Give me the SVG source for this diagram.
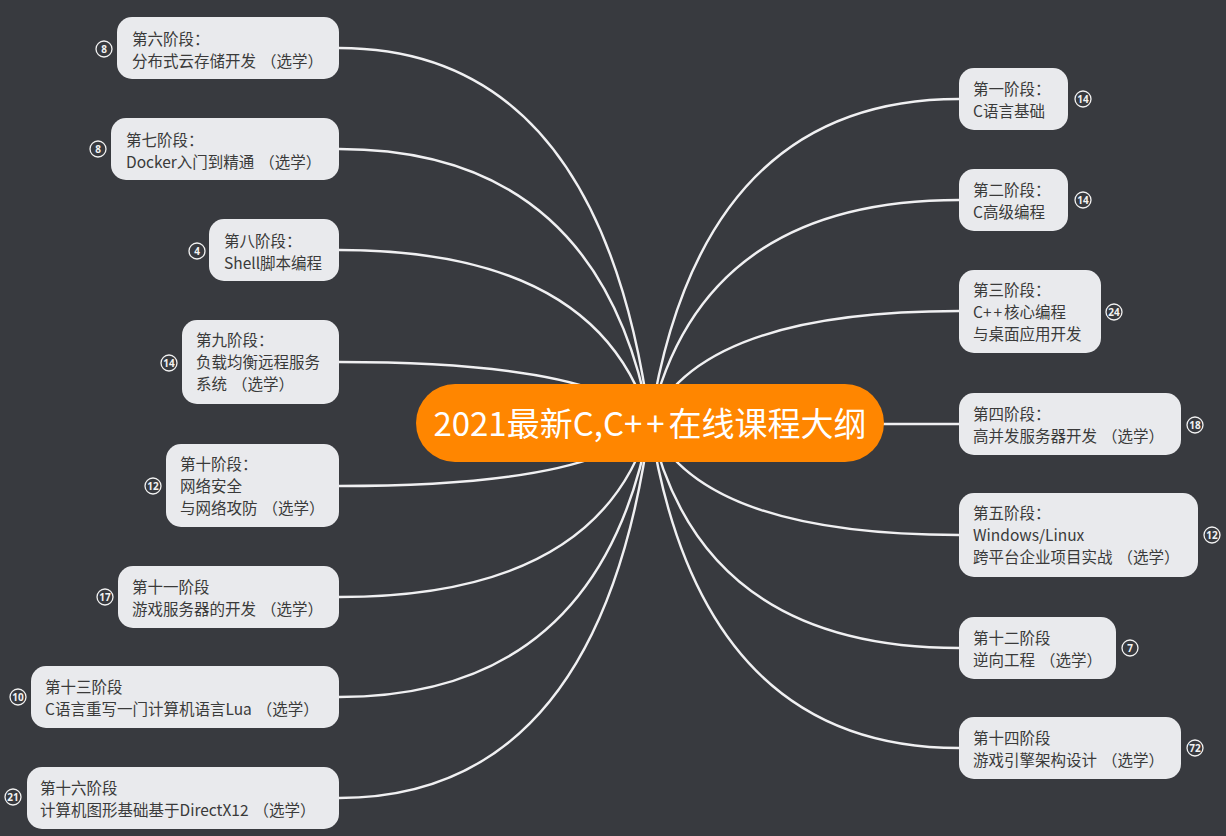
<svg xmlns="http://www.w3.org/2000/svg" width="1226" height="836" viewBox="0 0 1226 836">
<style>
.bg{fill:#383a3f}
.node rect{fill:#e9eaed}
.node text{font-family:"Noto Sans CJK SC","Noto Sans",sans-serif;font-size:15.5px;fill:#3a3a3a}
.badge circle{fill:none;stroke:#f2f2f2;stroke-width:1.3}
.badge text{font-family:"Noto Sans","DejaVu Sans",sans-serif;font-size:10px;font-weight:bold;fill:#f2f2f2;text-anchor:middle}
.conn path{fill:none;stroke:#f0f0f2;stroke-width:2.4}
.center rect{fill:#ff8600}
.center text{font-family:"Noto Sans CJK SC","Noto Sans",sans-serif;font-size:33px;fill:#ffffff;text-anchor:middle}
.pp{letter-spacing:4px}
</style>
<rect class="bg" x="0" y="0" width="1226" height="836"/>
<g id="connectors" class="conn">
<path d="M339 48 Q600 48 650 423"/>
<path d="M339 149 Q600 149 650 423"/>
<path d="M339 250 Q600 250 650 423"/>
<path d="M339 362 Q600 362 650 423"/>
<path d="M339 486 Q600 486 650 423"/>
<path d="M339 597 Q600 597 650 423"/>
<path d="M339 697 Q600 697 650 423"/>
<path d="M339 798 Q600 798 650 423"/>
<path d="M959 99 Q700 99 650 423"/>
<path d="M959 200 Q700 200 650 423"/>
<path d="M959 311 Q700 311 650 423"/>
<path d="M959 424 Q700 424 650 423"/>
<path d="M959 535 Q700 535 650 423"/>
<path d="M959 648 Q700 648 650 423"/>
<path d="M959 748 Q700 748 650 423"/>
</g>
<g id="center" class="center">
<rect x="416" y="384" width="468" height="78" rx="39"/>
<text x="650" y="436">2021最新C,C<tspan class="pp">++</tspan>在线课程大纲</text>
</g>
<g id="n6" class="node">
<rect x="117" y="17" width="222" height="62" rx="15"/>
<text x="132" y="45">第六阶段：</text><text x="132" y="67">分布式云存储开发<tspan dx="5">（选学）</tspan></text>
<g class="badge"><circle cx="104" cy="49" r="8"/><text x="104" y="52.6">8</text></g>
</g>
<g id="n7" class="node">
<rect x="111" y="118" width="228" height="62" rx="15"/>
<text x="126" y="146">第七阶段：</text><text x="126" y="168">Docker入门到精通<tspan dx="5">（选学）</tspan></text>
<g class="badge"><circle cx="98" cy="149" r="8"/><text x="98" y="152.6">8</text></g>
</g>
<g id="n8" class="node">
<rect x="209" y="219" width="130" height="62" rx="15"/>
<text x="224" y="247">第八阶段：</text><text x="224" y="269">Shell脚本编程</text>
<g class="badge"><circle cx="197" cy="251" r="8"/><text x="197" y="254.6">4</text></g>
</g>
<g id="n9" class="node">
<rect x="182" y="320" width="157" height="84" rx="15"/>
<text x="196" y="346">第九阶段：</text><text x="196" y="368">负载均衡远程服务</text><text x="196" y="390">系统<tspan dx="5">（选学）</tspan></text>
<g class="badge"><circle cx="169" cy="363" r="8"/><text x="169" y="366.6">14</text></g>
</g>
<g id="n10" class="node">
<rect x="166" y="444" width="173" height="83" rx="15"/>
<text x="180" y="470">第十阶段：</text><text x="180" y="492">网络安全</text><text x="180" y="514">与网络攻防<tspan dx="5">（选学）</tspan></text>
<g class="badge"><circle cx="153" cy="486" r="8"/><text x="153" y="489.6">12</text></g>
</g>
<g id="n11" class="node">
<rect x="118" y="566" width="221" height="62" rx="15"/>
<text x="132" y="593">第十一阶段</text><text x="132" y="615">游戏服务器的开发<tspan dx="5">（选学）</tspan></text>
<g class="badge"><circle cx="105" cy="597" r="8"/><text x="105" y="600.6">17</text></g>
</g>
<g id="n13" class="node">
<rect x="31" y="666" width="308" height="62" rx="15"/>
<text x="45" y="693">第十三阶段</text><text x="45" y="715">C语言重写一门计算机语言Lua<tspan dx="5">（选学）</tspan></text>
<g class="badge"><circle cx="18" cy="697" r="8"/><text x="18" y="700.6">10</text></g>
</g>
<g id="n16" class="node">
<rect x="27" y="767" width="312" height="62" rx="15"/>
<text x="40" y="794">第十六阶段</text><text x="40" y="816">计算机图形基础基于DirectX12<tspan dx="5">（选学）</tspan></text>
<g class="badge"><circle cx="13" cy="797" r="8"/><text x="13" y="800.6">21</text></g>
</g>
<g id="n1" class="node">
<rect x="959" y="68" width="109" height="62" rx="15"/>
<text x="973" y="95">第一阶段：</text><text x="973" y="117">C语言基础</text>
<g class="badge"><circle cx="1083" cy="99" r="8"/><text x="1083" y="102.6">14</text></g>
</g>
<g id="n2" class="node">
<rect x="959" y="169" width="109" height="62" rx="15"/>
<text x="973" y="196">第二阶段：</text><text x="973" y="218">C高级编程</text>
<g class="badge"><circle cx="1083" cy="200" r="8"/><text x="1083" y="203.6">14</text></g>
</g>
<g id="n3" class="node">
<rect x="959" y="270" width="142" height="83" rx="15"/>
<text x="973" y="296">第三阶段：</text><text x="973" y="318">C<tspan letter-spacing="2">++</tspan>核心编程</text><text x="973" y="340">与桌面应用开发</text>
<g class="badge"><circle cx="1114" cy="312" r="8"/><text x="1114" y="315.6">24</text></g>
</g>
<g id="n4" class="node">
<rect x="959" y="393" width="222" height="62" rx="15"/>
<text x="973" y="420">第四阶段：</text><text x="973" y="442">高并发服务器开发<tspan dx="5">（选学）</tspan></text>
<g class="badge"><circle cx="1195" cy="425" r="8"/><text x="1195" y="428.6">18</text></g>
</g>
<g id="n5" class="node">
<rect x="959" y="493" width="239" height="84" rx="15"/>
<text x="973" y="519">第五阶段：</text><text x="973" y="541">Windows/Linux</text><text x="973" y="563">跨平台企业项目实战<tspan dx="5">（选学）</tspan></text>
<g class="badge"><circle cx="1212" cy="535" r="8"/><text x="1212" y="538.6">12</text></g>
</g>
<g id="n12" class="node">
<rect x="959" y="617" width="157" height="62" rx="15"/>
<text x="973" y="644">第十二阶段</text><text x="973" y="666">逆向工程<tspan dx="5">（选学）</tspan></text>
<g class="badge"><circle cx="1130" cy="648" r="8"/><text x="1130" y="651.6">7</text></g>
</g>
<g id="n14" class="node">
<rect x="959" y="717" width="222" height="62" rx="15"/>
<text x="973" y="744">第十四阶段</text><text x="973" y="766">游戏引擎架构设计<tspan dx="5">（选学）</tspan></text>
<g class="badge"><circle cx="1195" cy="748" r="8"/><text x="1195" y="751.6">72</text></g>
</g>
</svg>
